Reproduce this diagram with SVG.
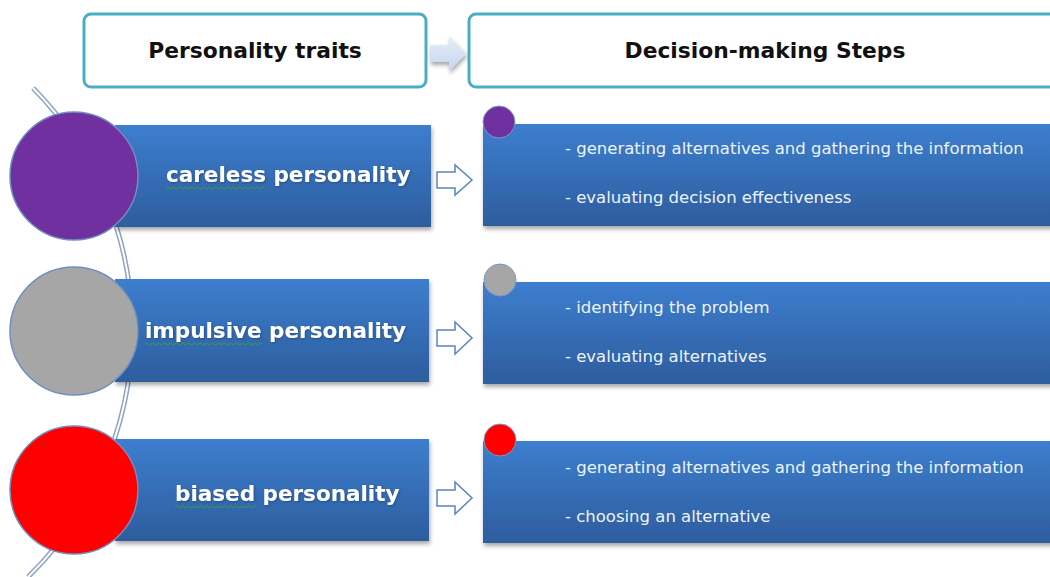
<svg xmlns="http://www.w3.org/2000/svg" width="1050" height="577" viewBox="0 0 1050 577">
  <defs>
    <linearGradient id="blueFill" x1="0" y1="0" x2="0" y2="1">
      <stop offset="0" stop-color="#3d7ecf"/>
      <stop offset="1" stop-color="#2d5d9d"/>
    </linearGradient>
    <linearGradient id="paleArrow" x1="0" y1="0" x2="0" y2="1">
      <stop offset="0" stop-color="#e6edf8"/>
      <stop offset="1" stop-color="#c7d6ee"/>
    </linearGradient>
    <filter id="shadow" x="-5%" y="-10%" width="110%" height="130%">
      <feDropShadow dx="1" dy="3" stdDeviation="2" flood-color="#000" flood-opacity="0.35"/>
    </filter>
    <filter id="textGlow" x="-5%" y="-20%" width="110%" height="140%">
      <feDropShadow dx="1" dy="1" stdDeviation="0.8" flood-color="#1c3a66" flood-opacity="0.6"/>
    </filter>
  </defs>
  <style>
    .header { fill: #ffffff; stroke: #4bacc6; stroke-width: 3; }
    .header-text { font-family: "DejaVu Sans", Verdana, sans-serif; font-weight: bold; font-size: 21.8px; fill: #111111; text-anchor: middle; }
    .bar { fill: url(#blueFill); filter: url(#shadow); }
    .trait { font-family: "DejaVu Sans", Verdana, sans-serif; font-weight: bold; font-size: 21.5px; fill: #ffffff; filter: url(#textGlow); }
    .step { font-family: "DejaVu Sans", Verdana, sans-serif; font-size: 16.5px; fill: #eef3fb; }
    .big-dot { stroke: #6f8fc0; stroke-width: 1.5; }
    .small-dot { stroke: #7a98c6; stroke-width: 1; }
    .hollow-arrow { fill: #ffffff; stroke: #5b84c0; stroke-width: 1.5; stroke-linejoin: miter; }
    .squiggle { fill: none; stroke: #3aa13a; stroke-width: 1; }
  </style>

  <!-- background arc behind the trait circles (double line) -->
  <g id="arc">
    <path d="M 33 88 A 345 345 0 0 1 28 577" fill="none" stroke="#8ea3c3" stroke-width="5"/>
    <path d="M 33 88 A 345 345 0 0 1 28 577" fill="none" stroke="#ffffff" stroke-width="2"/>
  </g>

  <!-- column headers -->
  <g id="header-traits">
    <rect class="header" x="84" y="14" width="342" height="73" rx="7"/>
    <text class="header-text" x="255" y="58">Personality traits</text>
  </g>
  <g id="header-steps">
    <rect class="header" x="469" y="14" width="600" height="73" rx="7"/>
    <text class="header-text" x="765" y="58">Decision-making Steps</text>
  </g>

  <!-- connectors -->
  <g id="connectors">
    <path d="M430 45 H449 V36 L466 53.5 L449 71 V62 H430 Z" fill="url(#paleArrow)" filter="url(#shadow)"/>
    <path class="hollow-arrow" d="M437 172 H455 V165 L472 180 L455 195 V188 H437 Z"/>
    <path class="hollow-arrow" d="M437 330 H455 V322 L472 338 L455 354 V346 H437 Z"/>
    <path class="hollow-arrow" d="M437 490 H455 V482 L472 498 L455 514 V506 H437 Z"/>
  </g>

  <!-- row 1 -->
  <g id="trait-careless">
    <rect class="bar" x="115" y="125" width="316" height="102"/>
    <circle class="big-dot" cx="74" cy="176" r="64" fill="#7030a0"/>
    <text class="trait" x="166" y="182">careless personality</text>
    <path class="squiggle" d="M166 188 q1.5 -2 3 0 t3 0 t3 0 t3 0 t3 0 t3 0 t3 0 t3 0 t3 0 t3 0 t3 0 t3 0 t3 0 t3 0 t3 0 t3 0 t3 0 t3 0 t3 0 t3 0 t3 0 t3 0 t3 0 t3 0 t3 0 t3 0 t3 0 t3 0 t3 0 t3 0 t3 0 t3 0 t3 0"/>
  </g>
  <g id="steps-careless">
    <rect class="bar" x="483" y="124" width="580" height="102"/>
    <circle class="small-dot" cx="499" cy="122" r="16" fill="#7030a0"/>
    <text class="step" x="565" y="154">- generating alternatives and gathering the information</text>
    <text class="step" x="565" y="203">- evaluating decision effectiveness</text>
  </g>

  <!-- row 2 -->
  <g id="trait-impulsive">
    <rect class="bar" x="115" y="279" width="314" height="103"/>
    <circle class="big-dot" cx="74" cy="331" r="64" fill="#a6a6a6"/>
    <text class="trait" x="145" y="338">impulsive personality</text>
    <path class="squiggle" d="M145 344 q1.5 -2 3 0 t3 0 t3 0 t3 0 t3 0 t3 0 t3 0 t3 0 t3 0 t3 0 t3 0 t3 0 t3 0 t3 0 t3 0 t3 0 t3 0 t3 0 t3 0 t3 0 t3 0 t3 0 t3 0 t3 0 t3 0 t3 0 t3 0 t3 0 t3 0 t3 0 t3 0 t3 0 t3 0 t3 0 t3 0 t3 0 t3 0 t3 0 t3 0"/>
  </g>
  <g id="steps-impulsive">
    <rect class="bar" x="483" y="282" width="580" height="102"/>
    <circle class="small-dot" cx="500" cy="280" r="16" fill="#a6a6a6"/>
    <text class="step" x="565" y="313">- identifying the problem</text>
    <text class="step" x="565" y="362">- evaluating alternatives</text>
  </g>

  <!-- row 3 -->
  <g id="trait-biased">
    <rect class="bar" x="115" y="439" width="314" height="102"/>
    <circle class="big-dot" cx="74" cy="490" r="64" fill="#ff0000"/>
    <text class="trait" x="175" y="501">biased personality</text>
    <path class="squiggle" d="M175 507 q1.5 -2 3 0 t3 0 t3 0 t3 0 t3 0 t3 0 t3 0 t3 0 t3 0 t3 0 t3 0 t3 0 t3 0 t3 0 t3 0 t3 0 t3 0 t3 0 t3 0 t3 0 t3 0 t3 0 t3 0 t3 0 t3 0 t3 0 t3 0"/>
  </g>
  <g id="steps-biased">
    <rect class="bar" x="483" y="441" width="580" height="102"/>
    <circle class="small-dot" cx="500" cy="440" r="16" fill="#ff0000"/>
    <text class="step" x="565" y="473">- generating alternatives and gathering the information</text>
    <text class="step" x="565" y="522">- choosing an alternative</text>
  </g>
</svg>
